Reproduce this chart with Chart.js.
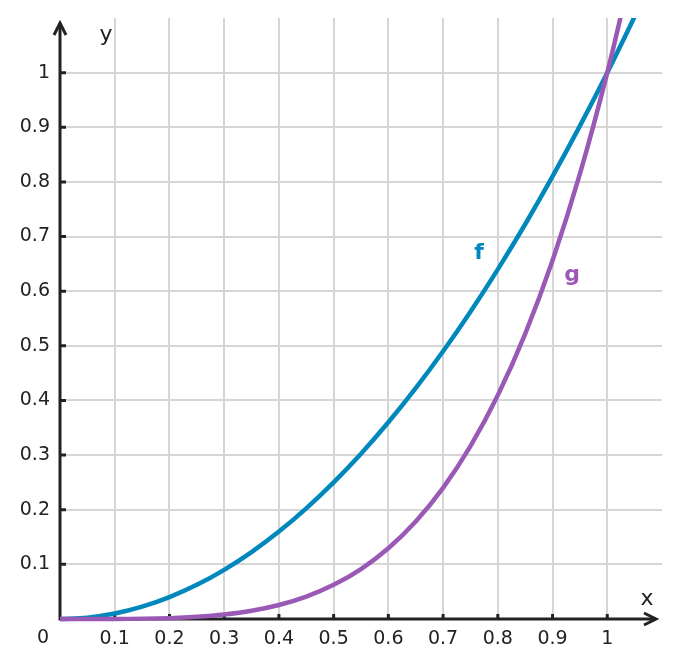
<!DOCTYPE html>
<html>
<head>
<meta charset="utf-8">
<script src="https://cdn.jsdelivr.net/npm/chart.js@4/dist/chart.umd.min.js"></script>
<style>
  html, body { margin: 0; padding: 0; background: #fff; }
  canvas { display: block; }
</style>
</head>
<body>
<canvas id="chart" width="680" height="668"></canvas>
<script>
// values
const fX = [0, 0.05, 0.1, 0.15, 0.2, 0.25, 0.3, 0.35, 0.4, 0.45, 0.5, 0.55, 0.6, 0.65, 0.7, 0.75, 0.8, 0.85, 0.9, 0.95, 1.0, 1.05];
const fY = [0, 0.0025, 0.01, 0.0225, 0.04, 0.0625, 0.09, 0.1225, 0.16, 0.2025, 0.25, 0.3025, 0.36, 0.4225, 0.49, 0.5625, 0.64, 0.7225, 0.81, 0.9025, 1.0, 1.1025];
const gX = [0, 0.1, 0.2, 0.25, 0.3, 0.35, 0.4, 0.45, 0.5, 0.55, 0.6, 0.65, 0.7, 0.75, 0.8, 0.85, 0.9, 0.95, 1.0, 1.03];
const gY = [0, 0.0001, 0.0016, 0.0039, 0.0081, 0.015, 0.0256, 0.041, 0.0625, 0.0915, 0.1296, 0.1785, 0.2401, 0.3164, 0.4096, 0.522, 0.6561, 0.8145, 1.0, 1.1255];
const tickValues = [0.1, 0.2, 0.3, 0.4, 0.5, 0.6, 0.7, 0.8, 0.9, 1];
const seriesNames = ["f", "g"];
const axisMin = 0;
const axisMax = 1.1;

const BLUE = "#0088bd";
const PURPLE = "#9b59b6";
const INK = "#222222";
const FONT = "'DejaVu Sans', sans-serif";

function toPoints(xs, ys) {
  return xs.map((x, i) => ({ x: x, y: ys[i] }));
}

function isTick(v) {
  return tickValues.some(t => Math.abs(t - v) < 1e-6);
}

function fmt(v) {
  return String(Math.round(v * 10) / 10);
}

// axes with arrows, small tick marks and text labels
const axesPlugin = {
  id: "axes",
  beforeDatasetsDraw(chart) {
    const ctx = chart.ctx;
    const xs = chart.scales.x, ys = chart.scales.y;
    const ox = xs.getPixelForValue(0), oy = ys.getPixelForValue(0);
    ctx.save();
    ctx.strokeStyle = INK;
    ctx.lineWidth = 3;
    ctx.lineCap = "butt";
    // y axis
    ctx.beginPath();
    ctx.moveTo(ox, oy + 1.5);
    ctx.lineTo(ox, 23);
    ctx.stroke();
    // x axis
    ctx.beginPath();
    ctx.moveTo(ox, oy);
    ctx.lineTo(656, oy);
    ctx.stroke();
    // arrows
    ctx.lineJoin = "miter";
    ctx.beginPath();
    ctx.moveTo(ox - 6, 35);
    ctx.lineTo(ox, 23);
    ctx.lineTo(ox + 6, 35);
    ctx.stroke();
    ctx.beginPath();
    ctx.moveTo(644, oy - 6);
    ctx.lineTo(656, oy);
    ctx.lineTo(644, oy + 6);
    ctx.stroke();
    // tick marks
    tickValues.forEach(v => {
      const px = xs.getPixelForValue(v);
      const py = ys.getPixelForValue(v);
      ctx.beginPath();
      ctx.moveTo(px, oy);
      ctx.lineTo(px, oy - 5);
      ctx.moveTo(ox, py);
      ctx.lineTo(ox + 6, py);
      ctx.stroke();
    });
    ctx.restore();
  },
  afterDatasetsDraw(chart) {
    const ctx = chart.ctx;
    ctx.save();
    ctx.textAlign = "center";
    ctx.textBaseline = "middle";
    ctx.fillStyle = INK;
    ctx.font = "19px " + FONT;
    ctx.fillText("0", 43, 638);
    ctx.font = "22px " + FONT;
    ctx.fillText("x", 647, 599);
    ctx.fillText("y", 106, 35);
    ctx.font = "bold 22px " + FONT;
    ctx.fillStyle = BLUE;
    ctx.fillText(seriesNames[0], 479, 253);
    ctx.fillStyle = PURPLE;
    ctx.fillText(seriesNames[1], 572, 275);
    ctx.restore();
  }
};

const tickFont = { family: FONT, size: 19 };

new Chart(document.getElementById("chart"), {
  type: "scatter",
  data: {
    datasets: [
      {
        label: seriesNames[0],
        data: toPoints(fX, fY),
        showLine: true,
        borderColor: BLUE,
        borderWidth: 4.5,
        pointRadius: 0,
        cubicInterpolationMode: "monotone",
        clip: { left: 5, top: 0, right: 0, bottom: 5 },
        order: 2
      },
      {
        label: seriesNames[1],
        data: toPoints(gX, gY),
        showLine: true,
        borderColor: PURPLE,
        borderWidth: 4.5,
        pointRadius: 0,
        cubicInterpolationMode: "monotone",
        clip: { left: 5, top: 0, right: 0, bottom: 5 },
        order: 1
      }
    ]
  },
  options: {
    responsive: false,
    animation: false,
    layout: { padding: { top: 18, right: 18, left: 0, bottom: 0 } },
    plugins: { legend: { display: false }, tooltip: { enabled: false } },
    scales: {
      x: {
        type: "linear",
        min: axisMin,
        max: axisMax,
        border: { display: false },
        grid: {
          drawTicks: false,
          lineWidth: 2,
          color: c => isTick(c.tick.value) ? "#d6d6d6" : "rgba(0,0,0,0)"
        },
        ticks: {
          stepSize: 0.1,
          padding: 9,
          autoSkip: false,
          maxRotation: 0,
          color: INK,
          font: tickFont,
          callback: v => isTick(v) ? fmt(v) : ""
        },
        afterFit: s => {
          s.height = 49;
          s.paddingLeft = 0;
          s.paddingRight = 0;
        }
      },
      y: {
        type: "linear",
        min: axisMin,
        max: axisMax,
        border: { display: false },
        grid: {
          drawTicks: false,
          lineWidth: 2,
          color: c => isTick(c.tick.value) ? "#d6d6d6" : "rgba(0,0,0,0)"
        },
        ticks: {
          stepSize: 0.1,
          padding: 10,
          autoSkip: false,
          color: INK,
          font: tickFont,
          callback: v => isTick(v) ? fmt(v) : ""
        },
        afterFit: s => {
          s.width = 60;
          s.paddingTop = 0;
          s.paddingBottom = 0;
        }
      }
    }
  },
  plugins: [axesPlugin]
});
</script>
</body>
</html>
